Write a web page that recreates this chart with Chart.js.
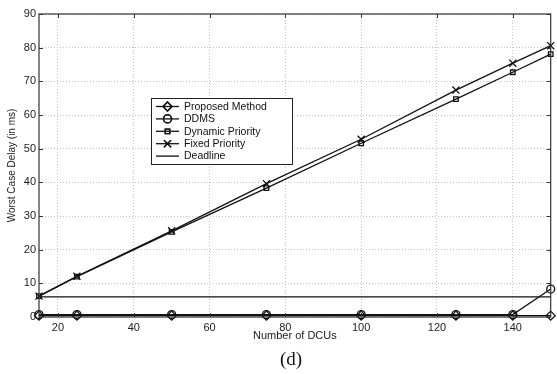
<!DOCTYPE html>
<html>
<head>
<meta charset="utf-8">
<script src="https://cdn.jsdelivr.net/npm/chart.js"></script>
<style>
  html, body { margin: 0; padding: 0; background: #fff; }
  #wrap { position: relative; width: 557px; height: 374px; }
  #caption {
    position: absolute; left: 0; width: 582px; top: 348px;
    text-align: center; font: 19px "Liberation Serif", serif; color: #111;
  }
</style>
</head>
<body>
<div id="wrap">
  <canvas id="delayChart" width="557" height="374"></canvas>
  <div id="caption">(d)</div>
</div>
<script>
// number of DCUs on the x axis
const dcus = [15, 25, 50, 75, 100, 125, 140, 150];

// worst case delay (ms) per method
const proposedDelay = [0.4, 0.4, 0.4, 0.4, 0.4, 0.4, 0.4, 0.4];
const ddmsDelay = [0.7, 0.7, 0.7, 0.7, 0.7, 0.7, 0.7, 8.3];
const dynamicDelay = [6.2, 12, 25.3, 38.3, 51.6, 64.7, 72.7, 78.1];
const fixedDelay = [6.2, 12.1, 25.6, 39.6, 52.8, 67.4, 75.4, 80.6];
const deadlineX = [15, 150];
const deadlineDelay = [6, 6];

const xTicks = [20, 40, 60, 80, 100, 120, 140];
const yTicks = [0, 10, 20, 30, 40, 50, 60, 70, 80, 90];

function pairs(xs, ys) {
    return xs.map((x, i) => ({ x: x, y: ys[i] }));
}

function series(label, xs, ys, style, radius) {
    return {
        label: label,
        data: pairs(xs, ys),
        borderColor: "#111",
        backgroundColor: "rgba(0,0,0,0)",
        borderWidth: 1.3,
        pointStyle: style,
        pointRadius: radius,
        pointBorderWidth: 1.3,
        pointBorderColor: "#111",
        pointBackgroundColor: "rgba(0,0,0,0)",
        tension: 0,
        clip: false,
    };
}

// box round the plot with inward ticks on all four sides
const framePlugin = {
    id: "frame",
    afterDatasetsDraw(chart) {
        const { ctx, chartArea: a, scales } = chart;
        ctx.save();
        ctx.strokeStyle = "#333";
        ctx.lineWidth = 1.2;
        ctx.strokeRect(a.left, a.top, a.right - a.left, a.bottom - a.top);
        ctx.lineWidth = 1;
        ctx.beginPath();
        xTicks.forEach((v) => {
            const px = Math.round(scales.x.getPixelForValue(v)) + 0.5;
            ctx.moveTo(px, a.bottom); ctx.lineTo(px, a.bottom - 4);
            ctx.moveTo(px, a.top); ctx.lineTo(px, a.top + 4);
        });
        yTicks.forEach((v) => {
            const py = Math.round(scales.y.getPixelForValue(v)) + 0.5;
            ctx.moveTo(a.left, py); ctx.lineTo(a.left + 4, py);
            ctx.moveTo(a.right, py); ctx.lineTo(a.right - 4, py);
        });
        ctx.stroke();
        ctx.restore();
    },
};

// boxed legend inside the plot
const boxLegend = {
    id: "boxLegend",
    afterDraw(chart) {
        const ctx = chart.ctx;
        const left = 151, top = 98, width = 141, height = 66;
        const rowH = 12.4;
        ctx.save();
        ctx.fillStyle = "#fff";
        ctx.fillRect(left, top, width, height);
        ctx.strokeStyle = "#222";
        ctx.lineWidth = 1;
        ctx.strokeRect(left + 0.5, top + 0.5, width, height);
        ctx.font = "10.5px 'Liberation Sans', Arial, sans-serif";
        ctx.textBaseline = "middle";
        chart.data.datasets.forEach((ds, i) => {
            const y = top + 8.5 + i * rowH;
            ctx.strokeStyle = "#111";
            ctx.lineWidth = 1.3;
            ctx.beginPath();
            ctx.moveTo(left + 5, y);
            ctx.lineTo(left + 28, y);
            ctx.stroke();
            if (ds.pointStyle && ds.pointRadius > 0) {
                // hollow marker, same as on the lines
                ctx.fillStyle = "rgba(0,0,0,0)";
                Chart.helpers.drawPoint(ctx, {
                    pointStyle: ds.pointStyle,
                    radius: ds.pointRadius,
                    rotation: 0,
                    borderWidth: 1.3,
                }, left + 16.5, y);
                ctx.stroke();
            }
            ctx.fillStyle = "#111";
            ctx.fillText(ds.label, left + 33, y + 0.5);
        });
        ctx.restore();
    },
};

const tickFont = { family: "'Liberation Sans', Arial, sans-serif", size: 11 };

new Chart(document.getElementById("delayChart"), {
    type: "line",
    data: {
        datasets: [
            series("Proposed Method", dcus, proposedDelay, "rectRot", 4.5),
            series("DDMS", dcus, ddmsDelay, "circle", 4),
            series("Dynamic Priority", dcus, dynamicDelay, "rect", 3.2),
            series("Fixed Priority", dcus, fixedDelay, "crossRot", 5),
            series("Deadline", deadlineX, deadlineDelay, false, 0),
        ],
    },
    options: {
        responsive: false,
        animation: false,
        devicePixelRatio: 1,
        layout: { padding: { top: 14, right: 1, left: 0, bottom: 0 } },
        plugins: { legend: { display: false }, tooltip: { enabled: false } },
        scales: {
            x: {
                type: "linear",
                min: 15,
                max: 150,
                afterBuildTicks: (s) => { s.ticks = xTicks.map((v) => ({ value: v })); },
                afterFit: (s) => { s.height = 57; },
                ticks: { font: tickFont, color: "#222", padding: 4, maxRotation: 0 },
                grid: { color: "#c4c4c4", drawTicks: false },
                border: { display: false, dash: [1, 2] },
                title: {
                    display: true,
                    text: "Number of DCUs",
                    font: tickFont,
                    color: "#222",
                    padding: { top: 0, bottom: 31 },
                },
            },
            y: {
                min: 0,
                max: 90,
                afterBuildTicks: (s) => { s.ticks = yTicks.map((v) => ({ value: v })); },
                afterFit: (s) => { s.width = 39; },
                ticks: { font: tickFont, color: "#222", padding: 3 },
                grid: { color: "#c4c4c4", drawTicks: false },
                border: { display: false, dash: [1, 2] },
                title: {
                    display: true,
                    text: "Worst Case Delay (in ms)",
                    font: { family: "'Liberation Sans', Arial, sans-serif", size: 10 },
                    color: "#222",
                    padding: { top: 6, bottom: 0 },
                },
            },
        },
    },
    plugins: [framePlugin, boxLegend],
});
</script>
</body>
</html>
